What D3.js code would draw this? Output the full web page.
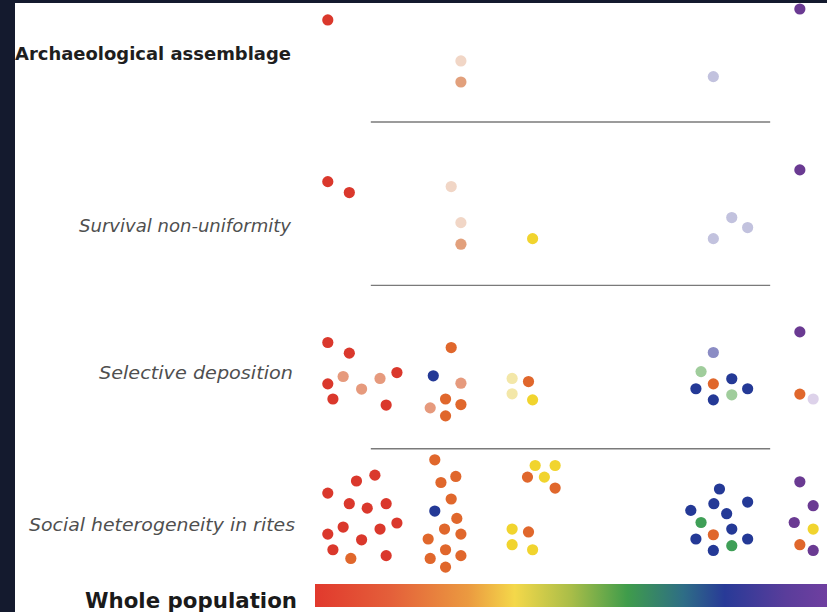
<!DOCTYPE html>
<html>
<head>
<meta charset="utf-8">
<script src="https://cdn.jsdelivr.net/npm/d3@7"></script>
<style>
  html, body { margin: 0; padding: 0; background: #ffffff; }
  svg { display: block; }
</style>
</head>
<body>
<script>
const width = 827;
const height = 612;

// rows, top to bottom
const levels = [
  "Archaeological assemblage",
  "Survival non-uniformity",
  "Selective deposition",
  "Social heterogeneity in rites",
];
const baseLabel = "Whole population";

const colourNames = ["red", "orange", "salmon", "peach", "paleOrange", "yellow", "paleYellow", "green", "paleGreen", "blue", "lavender", "paleLavender", "mist", "purple"];
const colourValues = ["#da382c", "#e0672c", "#e69a7d", "#e2a07c", "#f1d6c6", "#f1d42e", "#f3e7a8", "#3f9f57", "#a0cd9c", "#243996", "#8b8cc4", "#ddd2ea", "#c2c2de", "#6a3a92"];

// each dot: [position on the population spectrum (0-100), depth within its row (0-100), colour]
const assemblageDots = [
  [2.5, 37.5, "red"],
  [28.5, 62.6, "paleOrange"], [28.5, 75.5, "peach"],
  [77.8, 72.2, "mist"],
  [94.7, 30.8, "purple"],
];

const survivalDots = [
  [2.5, 36.5, "red"], [6.7, 43.2, "red"],
  [26.6, 39.5, "paleOrange"], [28.5, 61.6, "paleOrange"], [28.5, 74.8, "peach"],
  [42.5, 71.4, "yellow"],
  [81.4, 58.5, "mist"], [84.5, 64.6, "mist"], [77.8, 71.4, "mist"],
  [94.7, 29.3, "purple"],
];

const depositionDots = [
  [2.5, 35.0, "red"], [6.7, 41.5, "red"], [2.5, 60.3, "red"], [5.5, 55.8, "salmon"],
  [9.1, 63.5, "salmon"], [12.7, 57.0, "salmon"], [16.0, 53.4, "red"], [3.5, 69.6, "red"],
  [13.9, 73.3, "red"],
  [26.6, 38.1, "orange"], [23.1, 55.4, "blue"], [28.5, 59.9, "salmon"], [25.5, 69.6, "orange"],
  [28.5, 73.0, "orange"], [22.5, 75.0, "salmon"], [25.5, 79.9, "orange"],
  [38.5, 57.0, "paleYellow"], [41.7, 58.9, "orange"], [38.5, 66.4, "paleYellow"], [42.5, 70.1, "yellow"],
  [77.8, 41.1, "lavender"], [75.4, 52.8, "paleGreen"], [77.8, 60.3, "orange"], [81.4, 57.2, "blue"],
  [74.4, 63.3, "blue"], [81.4, 67.0, "paleGreen"], [84.5, 63.3, "blue"], [77.8, 70.1, "blue"],
  [94.7, 28.5, "purple"], [94.7, 66.6, "orange"], [97.3, 69.6, "paleLavender"],
];

const ritesDots = [
  [11.7, 16.2, "red"], [8.1, 19.8, "red"], [2.5, 27.2, "red"], [6.7, 33.7, "red"],
  [10.2, 36.4, "red"], [13.9, 33.7, "red"], [16.0, 45.5, "red"], [5.5, 48.0, "red"],
  [12.7, 49.2, "red"], [2.5, 52.3, "red"], [9.1, 55.8, "red"], [3.5, 61.9, "red"],
  [7.0, 67.2, "orange"], [13.9, 65.5, "red"],
  [23.4, 6.8, "orange"], [27.5, 17.0, "orange"], [24.6, 20.7, "orange"], [26.6, 30.8, "orange"],
  [23.4, 38.2, "blue"], [27.7, 42.7, "orange"], [25.3, 49.2, "orange"], [28.5, 52.3, "orange"],
  [22.1, 55.3, "orange"], [25.5, 61.9, "orange"], [28.5, 65.5, "orange"], [22.5, 67.2, "orange"],
  [25.5, 72.5, "orange"],
  [43.0, 10.3, "yellow"], [46.9, 10.3, "yellow"], [41.5, 17.4, "orange"], [44.8, 17.4, "yellow"],
  [46.9, 24.1, "orange"], [38.5, 49.2, "yellow"], [41.7, 51.0, "orange"], [38.5, 58.8, "yellow"],
  [42.5, 61.9, "yellow"],
  [79.0, 24.7, "blue"], [77.9, 33.7, "blue"], [84.5, 32.7, "blue"], [73.4, 37.8, "blue"],
  [80.4, 39.8, "blue"], [75.4, 45.2, "green"], [81.4, 49.2, "blue"], [77.8, 52.7, "orange"],
  [74.4, 55.3, "blue"], [84.5, 55.3, "blue"], [81.4, 59.4, "green"], [77.8, 62.3, "blue"],
  [94.7, 20.3, "purple"], [97.3, 34.9, "purple"], [93.6, 45.2, "purple"], [97.3, 49.2, "yellow"],
  [94.7, 58.8, "orange"], [97.3, 62.3, "purple"],
];

// spectrum of the whole population, left to right
const spectrumStops = [0, 15, 30, 39, 50, 61, 72, 80, 92, 100];
const spectrumColours = ["#e1392d", "#e4603a", "#eb9a40", "#f4d84a", "#a9bd48", "#3f9c4b", "#2e6d86", "#283a97", "#5a3d9b", "#6f3fa0"];

const rowDots = [assemblageDots, survivalDots, depositionDots, ritesDots];

const svg = d3.select("body")
    .append("svg")
    .attr("width", width)
    .attr("height", height)
    .attr("viewBox", [0, 0, width, height].join(" "));

svg.append("rect")
    .attr("width", width)
    .attr("height", height)
    .attr("fill", "#ffffff");

const x = d3.scaleLinear()
    .domain([0, 100])
    .range([315, 827]);

const row = d3.scaleBand()
    .domain(d3.range(levels.length))
    .range([-41.3, 612])
    .paddingInner(0)
    .paddingOuter(0);

const depth = d3.scaleLinear()
    .domain([0, 100])
    .range([0, row.bandwidth()]);

const colour = d3.scaleOrdinal()
    .domain(colourNames)
    .range(colourValues);

// separators between the rows
svg.append("g")
    .selectAll("line")
    .data(d3.range(1, levels.length))
    .join("line")
    .attr("x1", x(10.9))
    .attr("x2", x(88.9))
    .attr("y1", (d) => (row(d)))
    .attr("y2", (d) => (row(d)))
    .attr("stroke", "#7a7a7a")
    .attr("stroke-width", 1.4);

// row labels
const labelStyle = [
  { anchor: "start", x: 15, dy: 0.62, weight: "bold", style: "normal", fill: "#1e1e1e", len: 276 },
  { anchor: "end", x: 291, dy: 0.672, weight: "normal", style: "italic", fill: "#4f4f4f", len: 212 },
  { anchor: "end", x: 293, dy: 0.572, weight: "normal", style: "italic", fill: "#4f4f4f", len: 194 },
  { anchor: "end", x: 295, dy: 0.502, weight: "normal", style: "italic", fill: "#4f4f4f", len: 266 },
];

svg.append("g")
    .selectAll("text")
    .data(levels)
    .join("text")
    .attr("x", (d, i) => (labelStyle[i].x))
    .attr("y", (d, i) => (row(i) + labelStyle[i].dy * row.bandwidth()))
    .attr("text-anchor", (d, i) => (labelStyle[i].anchor))
    .attr("font-family", "DejaVu Sans, sans-serif")
    .attr("font-size", 17)
    .attr("font-weight", (d, i) => (labelStyle[i].weight))
    .attr("font-style", (d, i) => (labelStyle[i].style))
    .attr("fill", (d, i) => (labelStyle[i].fill))
    .attr("textLength", (d, i) => (labelStyle[i].len))
    .attr("lengthAdjust", "spacingAndGlyphs")
    .text((d) => (d));

// dots
const rowsG = svg.append("g")
    .selectAll("g")
    .data(rowDots)
    .join("g")
    .attr("transform", (d, i) => (`translate(0, ${row(i)})`));

rowsG.selectAll("circle")
    .data((d) => (d))
    .join("circle")
    .attr("cx", (d) => (x(d[0])))
    .attr("cy", (d) => (depth(d[1])))
    .attr("r", 5.6)
    .attr("fill", (d) => (colour(d[2])));

// whole population spectrum bar
const defs = svg.append("defs");

const gradient = defs.append("linearGradient")
    .attr("id", "spectrum")
    .attr("x1", "0%")
    .attr("x2", "100%")
    .attr("y1", "0%")
    .attr("y2", "0%");

gradient.selectAll("stop")
    .data(spectrumStops)
    .join("stop")
    .attr("offset", (d) => (`${d}%`))
    .attr("stop-color", (d, i) => (spectrumColours[i]));

svg.append("rect")
    .attr("x", x(0))
    .attr("y", 584)
    .attr("width", x(100) - x(0))
    .attr("height", 23)
    .attr("fill", "url(#spectrum)");

svg.append("text")
    .attr("x", 297)
    .attr("y", 608)
    .attr("text-anchor", "end")
    .attr("font-family", "DejaVu Sans, sans-serif")
    .attr("font-size", 22)
    .attr("font-weight", "bold")
    .attr("fill", "#1a1a1a")
    .attr("textLength", 212)
    .attr("lengthAdjust", "spacingAndGlyphs")
    .text(baseLabel);

// dark frame on the top and left edges
svg.append("rect")
    .attr("x", 0)
    .attr("y", 0)
    .attr("width", 15)
    .attr("height", height)
    .attr("fill", "#141a2e");

svg.append("rect")
    .attr("x", 0)
    .attr("y", 0)
    .attr("width", width)
    .attr("height", 3)
    .attr("fill", "#141a2e");
</script>
</body>
</html>
